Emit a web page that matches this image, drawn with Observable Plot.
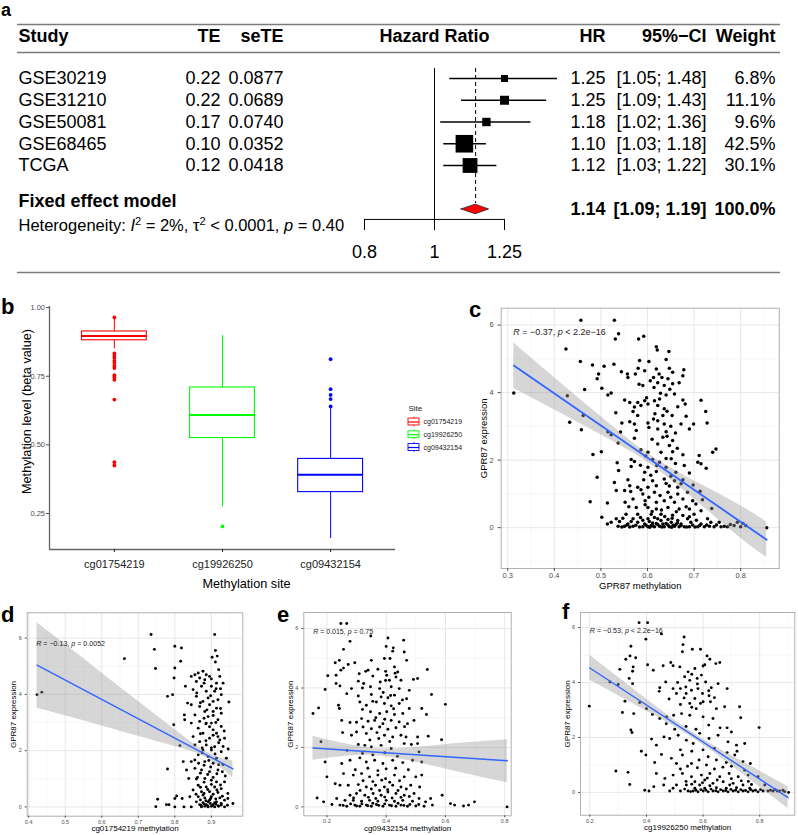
<!DOCTYPE html>
<html><head><meta charset="utf-8">
<script src="https://cdn.jsdelivr.net/npm/d3@7"></script>
<script src="https://cdn.jsdelivr.net/npm/@observablehq/plot@0.6"></script>
<style>
body{margin:0;background:#fff;}
#fig{position:relative;width:798px;height:835px;background:#fff;overflow:hidden;}
#fig svg{position:absolute;}
.tag{position:absolute;font:700 22px/14px "Liberation Sans",Arial,sans-serif;color:#000;}
</style></head><body><div id="fig"></div>
<script>
const FONT = '"Liberation Sans", Arial, Helvetica, sans-serif';

// ---------- Panel a: meta-analysis ----------
const studies = ["GSE30219","GSE31210","GSE50081","GSE68465","TCGA"];
const te      = [0.22, 0.22, 0.17, 0.10, 0.12];
const seTE    = [0.0877, 0.0689, 0.0740, 0.0352, 0.0418];
const hr      = [1.25, 1.25, 1.18, 1.10, 1.12];
const ciLow   = [1.05, 1.09, 1.02, 1.03, 1.03];
const ciHigh  = [1.48, 1.43, 1.36, 1.18, 1.22];
const weights = [6.8, 11.1, 9.6, 42.5, 30.1];
const pooled  = {label:"Fixed effect model", hr:1.14, lo:1.09, hi:1.19, weight:100.0};
const hetI2 = "2%", hetTau2 = "< 0.0001", hetP = "0.40";
const hrTicks = [0.8, 1, 1.25];
const hrTickLabels = ["0.8", "1", "1.25"];

// ---------- Panel b: boxplots ----------
const sites      = ["cg01754219","cg19926250","cg09432154"];
const siteColors = ["#FF0000","#00FF00","#0000FF"];
const boxLow  = [0.850, 0.274, 0.159];
const boxQ1   = [0.881, 0.525, 0.328];
const boxMed  = [0.897, 0.609, 0.391];
const boxQ3   = [0.913, 0.709, 0.449];
const boxHigh = [0.958, 0.898, 0.637];
const outliersRed   = [0.964,0.833,0.824,0.816,0.806,0.798,0.788,0.780,0.754,0.746,0.737,0.665,0.437,0.425];
const outliersGreen = [0.203];
const outliersBlue  = [0.812,0.703,0.682,0.667,0.640];
const betaTicks = [0.25, 0.50, 0.75, 1.00];

// ---------- Scatter panels ----------
const pointsC = [[0.457,6.14],[0.529,6.14],[0.538,5.74],[0.531,5.59],[0.581,5.59],[0.592,5.67],[0.425,5.29],[0.456,4.92],[0.619,5.36],[0.621,5.26],[0.646,5.22],[0.583,4.95],[0.603,4.92],[0.640,4.98],[0.482,4.82],[0.507,4.78],[0.528,4.84],[0.580,4.72],[0.594,4.65],[0.619,4.70],[0.647,4.72],[0.654,4.60],[0.678,4.68],[0.495,4.55],[0.492,4.41],[0.544,4.62],[0.557,4.55],[0.558,4.45],[0.574,4.55],[0.613,4.45],[0.631,4.45],[0.644,4.41],[0.676,4.50],[0.622,4.29],[0.614,4.15],[0.636,4.21],[0.654,4.26],[0.668,4.29],[0.582,4.25],[0.590,4.21],[0.502,4.13],[0.465,4.09],[0.313,3.99],[0.515,3.93],[0.522,3.99],[0.428,3.91],[0.551,3.78],[0.562,3.71],[0.579,3.71],[0.594,3.76],[0.601,3.66],[0.615,3.76],[0.626,3.81],[0.640,3.93],[0.658,3.96],[0.676,3.78],[0.681,3.66],[0.715,3.77],[0.572,3.57],[0.586,3.62],[0.622,3.62],[0.636,3.52],[0.569,3.44],[0.532,3.40],[0.433,3.12],[0.462,3.32],[0.579,3.32],[0.616,3.37],[0.633,3.32],[0.653,3.32],[0.683,3.30],[0.725,3.44],[0.545,3.10],[0.562,3.14],[0.572,3.07],[0.601,3.10],[0.622,3.17],[0.636,3.07],[0.672,3.07],[0.699,3.07],[0.728,3.10],[0.458,2.90],[0.515,2.84],[0.542,2.83],[0.576,2.88],[0.622,2.92],[0.640,2.84],[0.690,2.92],[0.522,2.75],[0.537,2.51],[0.572,2.65],[0.633,2.68],[0.654,2.58],[0.622,2.48],[0.647,2.43],[0.586,2.31],[0.601,2.23],[0.483,2.17],[0.501,2.25],[0.629,2.23],[0.654,2.25],[0.676,2.16],[0.711,2.14],[0.747,2.33],[0.740,2.23],[0.565,2.02],[0.572,1.96],[0.611,2.02],[0.626,1.94],[0.651,2.04],[0.708,1.94],[0.715,1.89],[0.535,1.92],[0.565,1.81],[0.601,1.79],[0.640,1.79],[0.679,1.84],[0.726,1.76],[0.538,1.69],[0.594,1.64],[0.619,1.66],[0.661,1.64],[0.492,1.49],[0.558,1.42],[0.592,1.42],[0.611,1.39],[0.636,1.44],[0.658,1.39],[0.676,1.42],[0.529,1.34],[0.562,1.24],[0.579,1.20],[0.601,1.20],[0.619,1.24],[0.647,1.23],[0.672,1.30],[0.713,1.08],[0.533,1.10],[0.551,1.10],[0.564,1.07],[0.590,1.00],[0.615,1.05],[0.644,1.05],[0.665,1.00],[0.686,1.05],[0.514,0.73],[0.477,0.77],[0.552,0.75],[0.569,0.85],[0.595,0.80],[0.619,0.75],[0.636,0.80],[0.658,0.75],[0.676,0.85],[0.697,0.80],[0.718,0.83],[0.738,0.57],[0.576,0.60],[0.601,0.60],[0.619,0.55],[0.644,0.60],[0.668,0.55],[0.690,0.55],[0.715,0.50],[0.554,0.40],[0.579,0.40],[0.608,0.40],[0.629,0.40],[0.654,0.37],[0.676,0.36],[0.700,0.40],[0.502,0.31],[0.533,0.26],[0.569,0.26],[0.601,0.26],[0.622,0.26],[0.644,0.24],[0.665,0.21],[0.686,0.26],[0.729,0.26],[0.514,0.11],[0.522,0.16],[0.540,0.18],[0.558,0.11],[0.579,0.16],[0.594,0.11],[0.611,0.14],[0.633,0.11],[0.651,0.16],[0.672,0.11],[0.693,0.16],[0.715,0.11],[0.736,0.16],[0.754,0.16],[0.793,0.16],[0.537,0.04],[0.551,0.04],[0.569,0.04],[0.590,0.03],[0.601,0.03],[0.615,0.03],[0.626,0.04],[0.636,0.03],[0.647,0.03],[0.658,0.04],[0.668,0.03],[0.679,0.03],[0.690,0.03],[0.708,0.03],[0.722,0.03],[0.733,0.04],[0.743,0.03],[0.758,0.03],[0.772,0.03],[0.786,0.06],[0.811,0.06],[0.856,0.00],[0.608,0.06],[0.622,0.09],[0.644,0.08],[0.661,0.09],[0.604,0.18],[0.629,0.21],
[0.545,0.02],[0.556,0.08],[0.562,0.02],[0.575,0.07],[0.583,0.02],[0.597,0.07],[0.605,0.01],[0.612,0.05],[0.619,0.12],[0.631,0.02],[0.640,0.12],[0.652,0.01],[0.655,0.07],[0.664,0.14],[0.672,0.06],[0.684,0.02],[0.697,0.08],[0.702,0.02],[0.712,0.06],[0.727,0.08],[0.748,0.08],[0.765,0.04],[0.778,0.09],[0.800,0.03],[0.805,0.12],[0.590,0.22],[0.615,0.30],[0.637,0.33],[0.653,0.28],[0.690,0.32],[0.705,0.22],[0.585,0.30],[0.565,0.18],[0.547,0.28],[0.610,0.48],[0.630,0.52],[0.662,0.47],[0.683,0.62],[0.704,0.70],[0.595,0.68],[0.560,0.62],[0.650,0.90],[0.627,0.95],[0.603,0.90],[0.586,1.12],[0.640,1.31],[0.665,1.20],[0.698,1.26],[0.607,1.55],[0.650,1.52],[0.690,1.62],[0.585,1.85],[0.620,1.84],[0.660,1.90],[0.596,2.12],[0.640,2.05],[0.664,2.35],[0.610,2.62],[0.642,2.71],[0.660,2.80],[0.603,2.97],[0.650,3.00],[0.613,3.22],[0.642,3.45],[0.665,3.58],[0.598,3.85],[0.628,3.98],[0.648,4.10],[0.606,4.35],[0.625,4.55]];
const fitC  = [[0.313,4.80],[0.856,-0.36]];
const bandC = [[0.313,4.12,5.48],[0.4,3.49,4.45],[0.5,2.75,3.29],[0.6,1.94,2.20],[0.7,0.85,1.39],[0.8,-0.31,0.65],[0.856,-0.88,0.16]];

const pointsD = [[0.423,3.99],[0.436,4.08],[0.662,5.27],[0.735,6.13],[0.744,5.60],[0.747,4.92],[0.800,5.71],[0.818,5.65],[0.816,5.18],[0.800,4.94],[0.798,4.58],[0.780,3.93],[0.794,3.99],[0.797,2.92],[0.814,2.18],[0.780,1.35],[0.829,4.29],[0.835,3.69],[0.826,3.27],[0.827,3.10],[0.909,6.13],[0.911,5.56],[0.902,5.32],[0.916,5.36],[0.911,5.15],[0.845,4.64],[0.855,4.70],[0.864,4.76],[0.877,4.82],[0.886,4.70],[0.868,4.58],[0.859,4.46],[0.882,4.52],[0.895,4.64],[0.920,4.88],[0.923,4.64],[0.932,4.40],[0.914,4.40],[0.900,4.29],[0.873,4.29],[0.850,4.17],[0.886,4.11],[0.909,4.11],[0.927,3.99],[0.859,3.93],[0.891,3.87],[0.877,3.75],[0.905,3.75],[0.918,3.81],[0.948,3.73],[0.845,3.63],[0.868,3.57],[0.895,3.63],[0.914,3.51],[0.882,3.39],[0.905,3.39],[0.927,3.33],[0.855,3.27],[0.891,3.21],[0.918,3.10],[0.868,3.04],[0.886,2.98],[0.900,2.98],[0.845,2.98],[0.927,2.86],[0.864,2.80],[0.905,2.74],[0.914,2.62],[0.877,2.62],[0.850,2.50],[0.895,2.44],[0.923,2.38],[0.936,2.44],[0.868,2.32],[0.886,2.20],[0.855,2.20],[0.909,2.14],[0.946,2.06],[0.877,2.02],[0.900,2.02],[0.927,1.96],[0.864,1.85],[0.891,1.79],[0.914,1.73],[0.941,1.73],[0.823,1.61],[0.845,1.61],[0.855,1.67],[0.882,1.61],[0.905,1.55],[0.932,1.51],[0.832,1.31],[0.855,1.37],[0.873,1.31],[0.895,1.25],[0.918,1.31],[0.838,1.01],[0.859,0.99],[0.882,1.01],[0.900,0.95],[0.914,0.89],[0.936,0.89],[0.864,0.77],[0.886,0.71],[0.909,0.71],[0.927,0.65],[0.850,0.60],[0.873,0.54],[0.895,0.54],[0.918,0.51],[0.945,0.48],[0.841,0.36],[0.864,0.36],[0.882,0.32],[0.900,0.36],[0.923,0.32],[0.936,0.24],[0.753,0.27],[0.805,0.39],[0.820,0.30],[0.859,0.18],[0.877,0.15],[0.891,0.18],[0.909,0.15],[0.927,0.12],[0.959,0.12],[0.777,0.08],[0.784,0.08],[0.800,0.30],[0.748,0.01],[0.800,0.00],[0.825,0.00],[0.845,0.00],[0.873,0.00],[0.882,0.02],[0.891,0.00],[0.900,0.02],[0.909,0.00],[0.918,0.04],[0.936,0.00],[0.944,0.06],[0.886,0.08],[0.905,0.08],[0.895,0.24],[0.868,0.08],[0.877,0.42],[0.914,0.18],
[0.872,0.05],[0.880,0.10],[0.890,0.03],[0.897,0.12],[0.903,0.05],[0.912,0.10],[0.920,0.02],[0.927,0.07],[0.885,0.22],[0.898,0.30],[0.912,0.28],[0.870,0.25],[0.930,0.38],[0.880,0.48],[0.905,0.45],[0.890,0.62],[0.915,0.60],[0.870,0.70],[0.900,0.80],[0.925,0.78],[0.880,0.88],[0.905,1.05],[0.890,1.15],[0.870,1.20],[0.915,1.18],[0.930,1.25],[0.898,1.42],[0.880,1.48],[0.920,1.50],[0.865,1.55],[0.893,1.65],[0.910,1.88],[0.875,1.92],[0.900,2.10],[0.920,2.28],[0.885,2.35],[0.905,2.55],[0.870,2.60],[0.935,2.70],[0.895,2.85],[0.912,3.00],[0.880,3.15],[0.905,3.25],[0.925,3.50],[0.888,3.45],[0.870,3.70],[0.898,3.95],[0.913,4.20],[0.880,4.40],[0.900,4.55],[0.925,4.20],[0.860,4.05],[0.885,2.95],[0.918,2.50],[0.875,2.10],[0.932,2.15],[0.862,1.05],[0.938,1.10],[0.858,0.45],[0.945,0.30]];
const fitD  = [[0.423,5.04],[0.959,1.35]];
const bandD = [[0.423,3.51,6.55],[0.5,3.24,5.78],[0.6,2.88,4.76],[0.7,2.51,3.75],[0.8,2.15,2.75],[0.885,1.76,1.96],[0.959,1.04,1.63]];

const pointsE = [[0.247,6.17],[0.267,6.17],[0.278,5.57],[0.256,5.30],[0.348,5.75],[0.406,5.68],[0.459,5.61],[0.400,5.40],[0.424,5.35],[0.422,5.24],[0.461,5.21],[0.228,4.85],[0.242,4.93],[0.294,4.85],[0.350,4.93],[0.394,4.99],[0.413,4.99],[0.469,4.93],[0.203,4.41],[0.231,4.43],[0.247,4.60],[0.256,4.67],[0.272,4.79],[0.309,4.48],[0.331,4.56],[0.339,4.60],[0.372,4.63],[0.398,4.56],[0.428,4.71],[0.439,4.54],[0.402,4.43],[0.411,4.26],[0.433,4.37],[0.450,4.26],[0.492,4.29],[0.506,4.32],[0.539,4.62],[0.306,4.23],[0.231,4.15],[0.244,4.07],[0.283,3.98],[0.324,4.15],[0.347,4.04],[0.378,3.98],[0.417,4.04],[0.444,3.98],[0.478,3.92],[0.194,3.95],[0.267,3.81],[0.306,3.73],[0.350,3.78],[0.383,3.70],[0.406,3.67],[0.428,3.76],[0.469,3.64],[0.553,3.78],[0.600,3.45],[0.172,3.33],[0.153,3.14],[0.239,3.42],[0.242,3.31],[0.311,3.53],[0.333,3.42],[0.367,3.53],[0.394,3.48],[0.417,3.40],[0.444,3.48],[0.478,3.31],[0.520,3.31],[0.320,3.28],[0.347,3.20],[0.378,3.14],[0.402,3.20],[0.428,3.11],[0.456,3.14],[0.536,3.11],[0.250,2.91],[0.278,2.84],[0.317,2.97],[0.339,2.88],[0.361,2.91],[0.389,2.80],[0.417,2.91],[0.444,2.86],[0.472,2.80],[0.494,2.91],[0.322,2.69],[0.350,2.63],[0.378,2.69],[0.406,2.61],[0.433,2.66],[0.467,2.35],[0.506,2.35],[0.542,2.38],[0.587,2.26],[0.253,2.50],[0.283,2.41],[0.300,2.52],[0.333,2.47],[0.369,2.50],[0.394,2.41],[0.422,2.35],[0.450,2.41],[0.180,2.19],[0.306,2.10],[0.328,2.07],[0.350,2.02],[0.383,2.07],[0.417,1.96],[0.461,2.13],[0.506,2.13],[0.511,1.85],[0.194,1.51],[0.250,1.46],[0.278,1.57],[0.311,1.65],[0.333,1.51],[0.361,1.57],[0.389,1.46],[0.422,1.57],[0.456,1.49],[0.489,1.57],[0.520,1.51],[0.200,1.01],[0.228,0.78],[0.256,1.12],[0.289,1.07],[0.317,1.12],[0.344,1.01],[0.372,1.07],[0.398,0.95],[0.428,1.07],[0.461,1.01],[0.500,1.01],[0.520,1.07],[0.244,0.73],[0.272,0.73],[0.306,0.75],[0.333,0.67],[0.364,0.73],[0.394,0.67],[0.422,0.73],[0.450,0.67],[0.483,0.73],[0.513,0.67],[0.167,0.30],[0.233,0.28],[0.278,0.39],[0.300,0.45],[0.328,0.39],[0.356,0.45],[0.383,0.39],[0.406,0.50],[0.433,0.45],[0.461,0.39],[0.494,0.45],[0.511,0.28],[0.550,0.28],[0.589,0.39],[0.261,0.22],[0.289,0.22],[0.317,0.19],[0.344,0.22],[0.372,0.19],[0.400,0.22],[0.428,0.19],[0.456,0.22],[0.489,0.19],[0.533,0.17],[0.217,0.08],[0.189,0.17],[0.244,0.06],[0.267,0.02],[0.294,0.06],[0.311,0.02],[0.333,0.06],[0.350,0.02],[0.367,0.08],[0.389,0.02],[0.411,0.06],[0.433,0.02],[0.450,0.06],[0.472,0.02],[0.500,0.03],[0.528,0.02],[0.556,0.06],[0.617,0.11],[0.631,0.06],[0.661,0.03],[0.678,0.06],[0.698,0.17],[0.808,0.00],
[0.255,0.05],[0.280,0.10],[0.300,0.03],[0.318,0.10],[0.338,0.04],[0.355,0.12],[0.375,0.05],[0.395,0.10],[0.418,0.04],[0.440,0.12],[0.460,0.05],[0.480,0.08],[0.510,0.08],[0.290,0.30],[0.340,0.32],[0.365,0.28],[0.395,0.33],[0.420,0.30],[0.450,0.32],[0.478,0.35],[0.312,0.55],[0.350,0.60],[0.378,0.55],[0.405,0.58],[0.440,0.55],[0.468,0.60],[0.322,0.88],[0.355,0.85],[0.385,0.90],[0.412,0.83],[0.445,0.88],[0.296,1.25],[0.338,1.30],[0.372,1.22],[0.400,1.28],[0.432,1.30],[0.475,1.25],[0.320,1.80],[0.355,1.75],[0.395,1.82],[0.438,1.70],[0.268,1.90],[0.345,2.25],[0.375,2.30],[0.412,2.20],[0.365,3.00],[0.395,2.95],[0.425,3.30],[0.355,3.55],[0.390,3.85],[0.415,3.75],[0.380,4.20],[0.320,4.00],[0.355,4.40],[0.398,4.25],[0.430,4.50],[0.455,3.60],[0.462,2.70],[0.485,2.10],[0.300,2.85]];
const fitE  = [[0.153,1.98],[0.809,1.55]];
const bandE = [[0.153,1.57,2.38],[0.25,1.69,2.15],[0.37,1.72,1.96],[0.5,1.50,2.00],[0.65,1.16,2.14],[0.809,0.81,2.26]];

const pointsF = [[0.198,3.14],[0.271,4.02],[0.300,3.93],[0.306,4.48],[0.327,4.85],[0.345,5.32],[0.342,4.97],[0.362,4.90],[0.353,4.57],[0.351,4.41],[0.339,4.15],[0.351,3.96],[0.324,3.32],[0.315,2.91],[0.355,2.87],[0.376,3.27],[0.345,2.27],[0.349,2.18],[0.292,0.78],[0.335,0.73],[0.341,0.29],[0.374,6.18],[0.404,6.18],[0.398,5.58],[0.453,5.77],[0.404,4.65],[0.424,4.45],[0.459,4.61],[0.486,4.73],[0.494,4.61],[0.527,5.12],[0.533,5.66],[0.529,5.38],[0.562,5.21],[0.591,5.21],[0.614,4.97],[0.624,4.85],[0.645,4.69],[0.659,4.73],[0.606,4.65],[0.518,4.57],[0.547,4.39],[0.571,4.51],[0.447,3.81],[0.468,4.02],[0.445,3.68],[0.494,3.78],[0.506,3.60],[0.520,3.78],[0.535,4.21],[0.553,4.08],[0.579,4.15],[0.594,4.27],[0.609,4.02],[0.629,3.81],[0.653,3.96],[0.685,3.78],[0.539,3.84],[0.559,3.72],[0.582,3.78],[0.598,3.60],[0.621,3.52],[0.533,3.44],[0.553,3.24],[0.571,3.42],[0.576,3.05],[0.591,3.24],[0.626,3.30],[0.647,3.05],[0.676,3.12],[0.729,3.12],[0.400,3.05],[0.421,2.84],[0.447,2.69],[0.471,2.75],[0.496,2.81],[0.524,2.87],[0.553,2.81],[0.600,2.75],[0.635,2.69],[0.685,2.35],[0.733,2.72],[0.798,2.36],[0.418,1.94],[0.435,1.72],[0.462,2.02],[0.482,1.96],[0.512,2.08],[0.541,1.90],[0.565,1.78],[0.588,2.15],[0.621,1.96],[0.653,2.08],[0.688,1.84],[0.718,1.72],[0.747,1.78],[0.382,1.50],[0.398,1.36],[0.429,1.09],[0.453,1.38],[0.488,1.24],[0.506,1.05],[0.527,1.36],[0.559,1.05],[0.586,1.18],[0.618,1.30],[0.647,1.18],[0.682,1.09],[0.712,1.36],[0.741,1.12],[0.767,1.05],[0.747,0.81],[0.435,0.69],[0.465,0.51],[0.494,0.63],[0.527,0.69],[0.559,0.57],[0.594,0.63],[0.624,0.69],[0.659,0.57],[0.692,0.69],[0.724,0.57],[0.759,0.63],[0.794,0.57],[0.818,0.27],[0.394,0.08],[0.409,0.05],[0.426,0.21],[0.461,0.27],[0.494,0.15],[0.506,0.27],[0.541,0.27],[0.571,0.39],[0.606,0.45],[0.635,0.33],[0.671,0.39],[0.706,0.33],[0.741,0.27],[0.771,0.29],[0.482,0.05],[0.547,0.05],[0.565,0.05],[0.582,0.02],[0.600,0.05],[0.618,0.02],[0.635,0.05],[0.653,0.02],[0.671,0.05],[0.688,0.02],[0.706,0.05],[0.724,0.02],[0.741,0.05],[0.759,0.02],[0.776,0.05],[0.794,0.02],[0.812,0.05],[0.829,0.05],[0.847,0.05],[0.862,0.05],[0.882,0.08],[0.902,0.00],[0.571,0.15],[0.606,0.15],[0.647,0.17],[0.682,0.15],[0.718,0.17],[0.765,0.15],[0.588,0.27],[0.624,0.24],[0.694,0.27],
[0.520,0.05],[0.535,0.12],[0.556,0.03],[0.575,0.08],[0.592,0.10],[0.610,0.08],[0.628,0.12],[0.645,0.06],[0.662,0.10],[0.680,0.07],[0.698,0.11],[0.715,0.08],[0.733,0.10],[0.750,0.07],[0.768,0.10],[0.785,0.08],[0.803,0.10],[0.838,0.08],[0.855,0.10],[0.870,0.05],[0.888,0.03],[0.540,0.40],[0.560,0.30],[0.598,0.35],[0.615,0.52],[0.650,0.45],[0.700,0.50],[0.735,0.42],[0.760,0.40],[0.520,0.85],[0.545,0.95],[0.580,0.90],[0.612,1.00],[0.640,0.85],[0.670,0.92],[0.700,0.95],[0.520,1.55],[0.560,1.50],[0.600,1.55],[0.640,1.60],[0.685,1.45],[0.720,1.50],[0.500,2.30],[0.540,2.40],[0.575,2.30],[0.620,2.45],[0.660,2.35],[0.700,2.20],[0.520,3.20],[0.560,3.10],[0.600,3.30],[0.640,3.45],[0.540,3.60],[0.580,3.95],[0.620,3.70],[0.560,4.30],[0.600,4.60],[0.510,4.00],[0.480,3.40],[0.470,2.50]];
const fitF  = [[0.2,4.53],[0.9,-0.19]];
const bandF = [[0.2,4.08,4.99],[0.3,3.53,4.19],[0.4,2.96,3.40],[0.55,2.07,2.27],[0.7,0.98,1.34],[0.8,0.20,0.78],[0.9,-0.59,0.21]];

const corText = {
  c: "R = −0.37, p < 2.2e−16",
  d: "R = −0.13, p = 0.0052",
  e: "R = 0.015, p = 0.75",
  f: "R = −0.53, p < 2.2e−16"
};

// ================= rendering =================
const fig = document.getElementById("fig");
function place(el, left, top){ el.style.left = left+"px"; el.style.top = top+"px"; fig.appendChild(el); }
const baseStyle = {fontFamily: FONT, background: "transparent", overflow: "visible"};

// ---- Panel a ----
const ROW = {top:-2.48, header:-1.93, headerRule:-1.195, refTop:-0.46, dashEnd:5.75, pooled:5.655, pooledVal:6.02,
             het:6.76, axis:6.48, tickEnd:6.99, tickLabel:8.0, bottom:8.92};
const rows = studies.map((s,i)=>({study:s, row:i, te:te[i], se:seTE[i], hr:hr[i], lo:ciLow[i], hi:ciHigh[i], w:weights[i]}));
const COL = {study:1, te:203, se:266, hr:588, ci:689, w:758};
const fmtCI = (a,b)=>`[${a.toFixed(2)}; ${b.toFixed(2)}]`;
const hdr = (t, dx, anchor) => Plot.text([t], {text:d=>d, y:()=>ROW.header, frameAnchor:"left", dx, textAnchor:anchor, fontSize:18, fontWeight:"bold", fill:"#000"});
const col = (text, dx, anchor) => Plot.text(rows, {text, y:"row", frameAnchor:"left", dx, textAnchor:anchor, fontSize:18, fill:"#000"});
const pcol = (text, dx, anchor, y) => Plot.text([pooled], {text, y:()=>y, frameAnchor:"left", dx, textAnchor:anchor, fontSize:18, fontWeight:"bold", fill:"#000"});
const diamond = [{x:pooled.lo, h:0},{x:pooled.hr, h:1},{x:pooled.hi, h:0}];

const plotA = Plot.plot({
  width:798, height:280, marginLeft:17, marginRight:18, marginTop:0, marginBottom:0,
  x:{type:"log", domain:[0.8,1.25], range:[364,504], axis:null},
  y:{domain:[0,4], range:[78,165], axis:null},
  r:{type:"identity"},
  style: baseStyle,
  marks:[
    Plot.ruleY([ROW.top, ROW.headerRule, ROW.bottom], {stroke:"#7a7a7a", strokeWidth:1.6}),
    hdr("Study", COL.study, "start"), hdr("TE", COL.te, "end"), hdr("seTE", COL.se, "end"),
    Plot.text(["Hazard Ratio"], {text:d=>d, x:()=>1, y:()=>ROW.header, fontSize:18, fontWeight:"bold", fill:"#000"}),
    hdr("HR", COL.hr, "end"), hdr("95%−CI", COL.ci, "end"), hdr("Weight", COL.w, "end"),
    col("study", COL.study, "start"),
    col(d=>d.te.toFixed(2), COL.te, "end"),
    col(d=>d.se.toFixed(4), COL.se, "end"),
    col(d=>d.hr.toFixed(2), COL.hr, "end"),
    col(d=>fmtCI(d.lo,d.hi), COL.ci, "end"),
    col(d=>d.w.toFixed(1)+"%", COL.w, "end"),
    pcol(d=>d.label, COL.study, "start", ROW.pooled),
    pcol(d=>d.hr.toFixed(2), COL.hr, "end", ROW.pooledVal),
    pcol(d=>fmtCI(d.lo,d.hi), COL.ci, "end", ROW.pooledVal),
    pcol(d=>d.weight.toFixed(1)+"%", COL.w, "end", ROW.pooledVal),
    Plot.text(["HET"], {text:()=>"Heterogeneity", y:()=>ROW.het, frameAnchor:"left", dx:COL.study, textAnchor:"start", fontSize:16.5, fill:"#000"}),
    Plot.ruleX([1], {y1:()=>ROW.refTop, y2:()=>ROW.tickEnd, stroke:"#000", strokeWidth:1}),
    Plot.ruleX([pooled], {x:"hr", y1:()=>ROW.refTop, y2:()=>ROW.dashEnd, stroke:"#000", strokeWidth:1, strokeDasharray:"4,3"}),
    Plot.ruleY(rows, {y:"row", x1:"lo", x2:"hi", stroke:"#000", strokeWidth:1.3}),
    Plot.dot(rows, {x:"hr", y:"row", symbol:"square", r:d=>Math.sqrt(d.w)*2.7/Math.sqrt(Math.PI), fill:"#000", stroke:null}),
    Plot.areaY(diamond, {x:"x", y1:d=>ROW.pooledVal - d.h*0.22, y2:d=>ROW.pooledVal + d.h*0.22, fill:"#FF0000", stroke:"#222", strokeWidth:0.8}),
    Plot.ruleY([ROW.axis], {x1:()=>hrTicks[0], x2:()=>hrTicks[hrTicks.length-1], stroke:"#000", strokeWidth:1}),
    Plot.ruleX(hrTicks, {y1:()=>ROW.axis, y2:()=>ROW.tickEnd, stroke:"#000", strokeWidth:1}),
    Plot.text(hrTicks, {x:d=>d, y:()=>ROW.tickLabel, text:(d,i)=>hrTickLabels[i], fontSize:18, fill:"#000"})
  ]
});
place(plotA, 0, 0);

// ---- Panel b ----
const boxStats = sites.map((s,i)=>({site:s, i, lo:boxLow[i], q1:boxQ1[i], med:boxMed[i], q3:boxQ3[i], hi:boxHigh[i]}));
const outlierRows = [
  ...outliersRed.map(v=>({site:sites[0], i:0, v})),
  ...outliersGreen.map(v=>({site:sites[1], i:1, v})),
  ...outliersBlue.map(v=>({site:sites[2], i:2, v}))
];
const xDomB = [-0.6, 2.6], yDomB = [0.119, 1.004];
const plotB = Plot.plot({
  width:480, height:320, marginLeft:49, marginRight:85, marginTop:26, marginBottom:51,
  x:{domain:xDomB, axis:null}, y:{domain:yDomB, axis:null},
  color:{domain:sites, range:siteColors},
  style: baseStyle,
  marks:[
    Plot.ruleX(boxStats, {x:"i", y1:"lo", y2:"q1", stroke:"site", strokeWidth:1}),
    Plot.ruleX(boxStats, {x:"i", y1:"q3", y2:"hi", stroke:"site", strokeWidth:1}),
    Plot.rect(boxStats, {x1:d=>d.i-0.3, x2:d=>d.i+0.3, y1:"q1", y2:"q3", fill:"white", stroke:"site", strokeWidth:1.1}),
    Plot.ruleY(boxStats, {y:"med", x1:d=>d.i-0.3, x2:d=>d.i+0.3, stroke:"site", strokeWidth:2}),
    Plot.dot(outlierRows, {x:"i", y:"v", r:1.9, fill:"site", stroke:null}),
    Plot.ruleX([xDomB[0]], {stroke:"#666", strokeWidth:1.3}),
    Plot.ruleY([yDomB[0]], {stroke:"#666", strokeWidth:1.3}),
    Plot.axisY({ticks:betaTicks, tickFormat:d3.format(".2f"), tickSize:3, tickPadding:1.5, fontSize:7.5, color:"#4d4d4d", label:null}),
    Plot.axisX({ticks:[0,1,2], tickFormat:i=>sites[i], tickSize:3, tickPadding:8, fontSize:11, color:"#222", label:null}),
    Plot.text(["Methylation level (beta value)"], {text:d=>d, frameAnchor:"left", dx:-23, dy:-16.5, rotate:-90, textAnchor:"middle", fontSize:12.7, fill:"#000"}),
    Plot.text(["Methylation site"], {text:d=>d, frameAnchor:"bottom", dx:24, dy:38, fontSize:12.7, fill:"#000"})
  ]
});
place(plotB, 0, 280);

// legend for b
const plotLeg = Plot.plot({
  width:80, height:60, marginLeft:8, marginRight:61, marginTop:23.5, marginBottom:11,
  x:{domain:[0,1], axis:null}, y:{domain:[0,2], reverse:true, axis:null},
  color:{domain:sites, range:siteColors},
  style: baseStyle,
  marks:[
    Plot.ruleX(sites, {x:()=>0.5, y1:(d,i)=>i-0.38, y2:(d,i)=>i+0.38, stroke:d=>d, strokeWidth:0.9}),
    Plot.rect(sites, {x1:()=>0, x2:()=>1, y1:(d,i)=>i-0.27, y2:(d,i)=>i+0.27, fill:"white", stroke:d=>d, strokeWidth:0.9}),
    Plot.ruleY(sites, {y:(d,i)=>i, x1:()=>0, x2:()=>1, stroke:d=>d, strokeWidth:1.2}),
    Plot.text(sites, {x:()=>1, y:(d,i)=>i, dx:4, text:d=>d, textAnchor:"start", fontSize:7, fill:"#222"}),
    Plot.text(["Site"], {x:()=>0, y:()=>-1.05, text:d=>d, textAnchor:"start", fontSize:8, fill:"#222"})
  ]
});
place(plotLeg, 400, 398);

// ---- Scatter panels ----
function scatter(o){
  const inX = v => v > o.xDom[0] && v < o.xDom[1];
  const inY = v => v > o.yDom[0] && v < o.yDom[1];
  return Plot.plot({
    width:o.w, height:o.h, marginLeft:o.ml, marginRight:o.mr, marginTop:o.mt, marginBottom:o.mb,
    x:{domain:o.xDom, axis:null}, y:{domain:o.yDom, axis:null},
    style: baseStyle,
    marks:[
      Plot.ruleX(o.xMinor.filter(inX), {stroke:"#f2f2f2", strokeWidth:0.6}),
      Plot.ruleY(o.yMinor.filter(inY), {stroke:"#f2f2f2", strokeWidth:0.6}),
      Plot.ruleX(o.xTicks.filter(inX), {stroke:"#e4e4e4", strokeWidth:0.9}),
      Plot.ruleY(o.yTicks.filter(inY), {stroke:"#e4e4e4", strokeWidth:0.9}),
      Plot.dot(o.points, {x:d=>d[0], y:d=>d[1], r:o.r, fill:"#000", stroke:null}),
      Plot.areaY(o.band, {x:d=>d[0], y1:d=>d[1], y2:d=>d[2], fill:"#999", fillOpacity:0.4, curve:"natural"}),
      Plot.line(o.fit, {x:d=>d[0], y:d=>d[1], stroke:"#3366FF", strokeWidth:o.lw}),
      Plot.frame({stroke:"#b0b0b0", strokeWidth:1}),
      Plot.axisX({ticks:o.xTicks, tickFormat:d=>String(d), tickSize:o.ts, tickPadding:o.xtp, fontSize:o.tf, color:"#4d4d4d", label:null}),
      Plot.axisY({ticks:o.yTicks, tickFormat:d=>String(d), tickSize:o.ts, tickPadding:o.ytp, fontSize:o.tf, color:"#4d4d4d", label:null}),
      Plot.text([o.ann], {text:d=>d, frameAnchor:"top-left", dx:o.annDx, dy:o.annDy, textAnchor:"start", fontSize:o.af, fill:"#222"}),
      Plot.text([o.xTitle], {text:d=>d, frameAnchor:"bottom", dy:o.xtDy, textAnchor:"middle", fontSize:o.ttf, fill:"#000"}),
      Plot.text([o.yTitle], {text:d=>d, frameAnchor:"left", dx:o.ytDx, rotate:-90, textAnchor:"middle", fontSize:o.ttf, fill:"#000"})
    ]
  });
}

const yTicksExpr = [0,2,4,6], yMinorExpr = [-1,1,3,5];

place(scatter({w:358, h:315, ml:60.7, mr:19.2, mt:27.7, mb:27,
  xDom:[0.286,0.883], yDom:[-1.21,6.5],
  xTicks:[0.3,0.4,0.5,0.6,0.7,0.8], xMinor:[0.35,0.45,0.55,0.65,0.75,0.85],
  yTicks:yTicksExpr, yMinor:yMinorExpr,
  points:pointsC, fit:fitC, band:bandC, r:1.75, lw:1.8,
  ts:3, xtp:1, ytp:4.5, tf:7.5,
  ann:corText.c, annDx:12, annDy:20, af:9,
  xTitle:"GPR87 methylation", yTitle:"GPR87 expression", xtDy:20.5, ytDx:-17.7, ttf:9.5}), 440, 280);

place(scatter({w:270, h:235, ml:26.7, mr:27.7, mt:12.3, mb:19.3,
  xDom:[0.396,0.986], yDom:[-0.33,6.9],
  xTicks:[0.4,0.5,0.6,0.7,0.8,0.9], xMinor:[0.45,0.55,0.65,0.75,0.85,0.95],
  yTicks:yTicksExpr, yMinor:yMinorExpr,
  points:pointsD, fit:fitD, band:bandD, r:1.45, lw:1.4,
  ts:2, xtp:1.4, ytp:3.4, tf:5.5,
  ann:corText.d, annDx:9, annDy:27.7, af:7.1,
  xTitle:"cg01754219 methylation", yTitle:"GPR87 expression", xtDy:14.8, ytDx:-13.4, ttf:8}), 0, 600);

place(scatter({w:260, h:235, ml:33.3, mr:19.3, mt:12, mb:19.7,
  xDom:[0.122,0.822], yDom:[-0.30,6.54],
  xTicks:[0.2,0.4,0.6,0.8], xMinor:[0.1,0.3,0.5,0.7],
  yTicks:yTicksExpr, yMinor:yMinorExpr,
  points:pointsE, fit:fitE, band:bandE, r:1.45, lw:1.4,
  ts:2, xtp:1.4, ytp:3.4, tf:5.5,
  ann:corText.e, annDx:9.4, annDy:16.7, af:7.0,
  xTitle:"cg09432154 methylation", yTitle:"GPR87 expression", xtDy:14.8, ytDx:-13.3, ttf:8}), 270, 600);

place(scatter({w:268, h:235, ml:50, mr:3.7, mt:12, mb:20.3,
  xDom:[0.167,0.924], yDom:[-0.83,6.55],
  xTicks:[0.2,0.4,0.6,0.8], xMinor:[0.3,0.5,0.7,0.9],
  yTicks:yTicksExpr, yMinor:yMinorExpr,
  points:pointsF, fit:fitF, band:bandF, r:1.45, lw:1.4,
  ts:2, xtp:1.4, ytp:3.4, tf:5.5,
  ann:corText.f, annDx:9.3, annDy:15, af:7.1,
  xTitle:"cg19926250 methylation", yTitle:"GPR87 expression", xtDy:14.8, ytDx:-13.3, ttf:8}), 530, 600);

// ---- italic / superscript styling of statistic texts ----
const esc = s => s.replace(/&/g,"&amp;").replace(/</g,"&lt;");
fig.querySelectorAll("svg text").forEach(t => {
  const s = t.textContent;
  const m = s.match(/^R = (.*), p (.*)$/);
  if (m) {
    t.innerHTML = `<tspan font-style="italic">R</tspan> = ${esc(m[1])}, <tspan font-style="italic">p</tspan> ${esc(m[2])}`;
  } else if (s === "Heterogeneity") {
    t.innerHTML = `Heterogeneity: <tspan font-style="italic">I</tspan><tspan baseline-shift="super" font-size="11">2</tspan> = ${esc(hetI2)}, ` +
      `τ<tspan baseline-shift="super" font-size="11">2</tspan> ${esc(hetTau2)}, <tspan font-style="italic">p</tspan> = ${esc(hetP)}`;
  }
});

// ---- panel tags ----
[["a",1,0,18,20],["b",1,300.4,22,14],["c",469,303.4,22,14],["d",1,608.4,22,14],["e",277,608.4,22,14],["f",562,605.4,22,14]].forEach(([t,x,y,fs,lh])=>{
  const d = document.createElement("div"); d.className="tag"; d.textContent=t;
  d.style.left = x+"px"; d.style.top = y+"px"; d.style.fontSize = fs+"px"; d.style.lineHeight = lh+"px"; fig.appendChild(d);
});
</script></body></html>
